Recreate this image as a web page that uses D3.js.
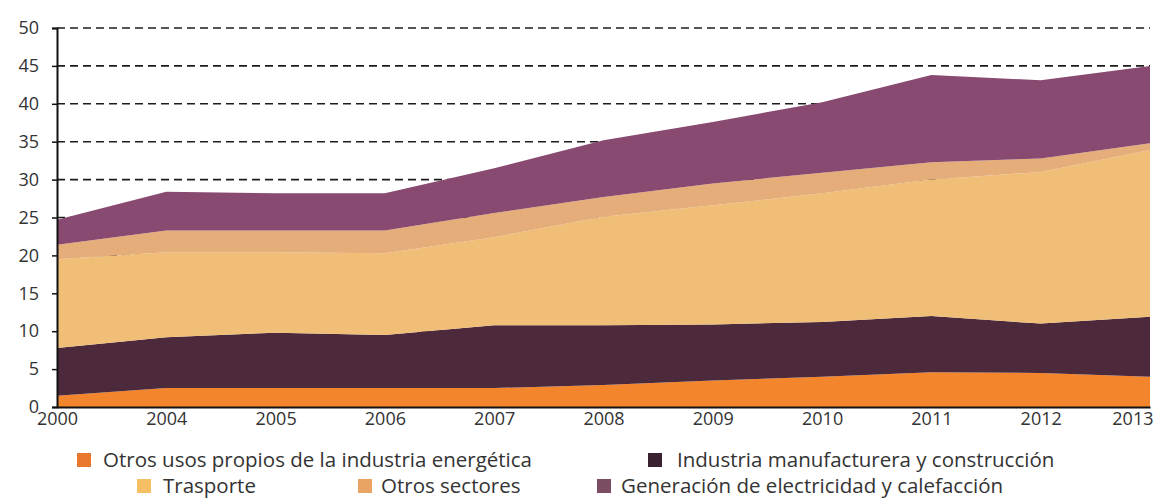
<!DOCTYPE html>
<html>
<head>
<meta charset="utf-8">
<script src="https://cdn.jsdelivr.net/npm/d3@7"></script>
<style>
  html, body { margin: 0; padding: 0; background: #ffffff; }
  svg { display: block; font-family: "Open Sans", sans-serif; }
</style>
</head>
<body>
<svg id="chart" width="1161" height="500"></svg>
<script>
// Años del eje horizontal
const years = ["2000", "2004", "2005", "2006", "2007", "2008", "2009", "2010", "2011", "2012", "2013"];

// Emisiones por sector (valores apilados de abajo hacia arriba)
const otrosUsos     = [1.5, 2.5, 2.5, 2.5, 2.5, 2.9, 3.5, 4.0, 4.6, 4.5, 4.0];
const industria     = [6.3, 6.7, 7.3, 7.0, 8.3, 7.9, 7.4, 7.2, 7.4, 6.5, 7.9];
const trasporte     = [11.7, 11.2, 10.6, 10.8, 11.6, 14.3, 15.7, 17.0, 18.0, 20.0, 22.0];
const otrosSectores = [1.9, 2.9, 2.9, 3.0, 3.2, 2.6, 2.9, 2.7, 2.3, 1.8, 0.9];
const generacion    = [3.3, 5.1, 4.9, 4.9, 5.9, 7.5, 8.1, 9.3, 11.5, 10.3, 10.2];

const yTicks = [0, 5, 10, 15, 20, 25, 30, 35, 40, 45, 50];

const seriesNames = [
  "Otros usos propios de la industria energética",
  "Industria manufacturera y construcción",
  "Trasporte",
  "Otros sectores",
  "Generación de electricidad y calefacción"
];
const seriesValues = [otrosUsos, industria, trasporte, otrosSectores, generacion];
const areaColors   = ["#f3862c", "#4c2a3c", "#f1be78", "#e4ad7a", "#884a70"];
const swatchColors = ["#e9772c", "#3a2130", "#f4c063", "#e9a464", "#7b4d63"];

// Tabla por año para d3.stack
const table = years.map((yr, i) => {
  const row = { year: yr };
  seriesNames.forEach((name, k) => { row[name] = seriesValues[k][i]; });
  return row;
});

const svg = d3.select("#chart");
const plotLeft = 57, plotRight = 1150, plotTop = 28, plotBottom = 407;

const x = d3.scalePoint().domain(years).range([plotLeft, plotRight]);
const y = d3.scaleLinear().domain([0, 50]).range([plotBottom, plotTop]);

// Líneas de cuadrícula discontinuas
svg.append("g")
  .selectAll("line")
  .data(yTicks.filter(t => t > 0))
  .join("line")
  .attr("x1", plotLeft).attr("x2", plotRight)
  .attr("y1", d => y(d)).attr("y2", d => y(d))
  .attr("stroke", "#1c1c1c")
  .attr("stroke-width", 1.6)
  .attr("stroke-dasharray", "8,5");

// Áreas apiladas
const stacked = d3.stack().keys(seriesNames)(table);
const area = d3.area()
  .x(d => x(d.data.year))
  .y0(d => y(d[0]))
  .y1(d => y(d[1]));

svg.append("g")
  .selectAll("path")
  .data(stacked)
  .join("path")
  .attr("d", area)
  .attr("fill", (d, i) => areaColors[i]);

// Eje vertical
const yAxis = svg.append("g")
  .attr("transform", `translate(${plotLeft},0)`)
  .call(d3.axisLeft(y).tickValues(yTicks).tickSize(5).tickPadding(13));
yAxis.select(".domain").attr("stroke", "#111").attr("stroke-width", 2);
yAxis.selectAll(".tick line").attr("stroke", "#111").attr("stroke-width", 1.5);
yAxis.selectAll(".tick text")
  .attr("fill", "#333")
  .style("font-size", "18px")
  .style("font-family", "'Open Sans', sans-serif");

// Eje horizontal
const xAxis = svg.append("g")
  .attr("transform", `translate(0,${plotBottom})`)
  .call(d3.axisBottom(x).tickSize(0).tickPadding(5));
xAxis.select(".domain").attr("stroke", "#111").attr("stroke-width", 2);
xAxis.selectAll(".tick text")
  .attr("fill", "#333")
  .style("font-size", "18px")
  .style("font-family", "'Open Sans', sans-serif")
  .attr("text-anchor", d => d === years[years.length - 1] ? "end" : "middle")
  .attr("dx", d => d === years[years.length - 1] ? "3" : "0");

// Leyenda
const legendItems = [
  { k: 0, sx: 77,  tx: 103, row: 0 },
  { k: 1, sx: 648, tx: 677, row: 0 },
  { k: 2, sx: 137, tx: 163, row: 1 },
  { k: 3, sx: 358, tx: 381, row: 1 },
  { k: 4, sx: 597, tx: 621, row: 1 }
];
const rowY = [460, 486];

const legend = svg.append("g")
  .selectAll("g")
  .data(legendItems)
  .join("g");
legend.append("rect")
  .attr("x", d => d.sx)
  .attr("y", d => rowY[d.row] - 7)
  .attr("width", 14).attr("height", 14)
  .attr("fill", d => swatchColors[d.k]);
legend.append("text")
  .attr("x", d => d.tx)
  .attr("y", d => rowY[d.row])
  .attr("dy", "0.35em")
  .attr("fill", "#333")
  .style("font-size", "20.5px")
  .text(d => seriesNames[d.k]);
</script>
</body>
</html>
